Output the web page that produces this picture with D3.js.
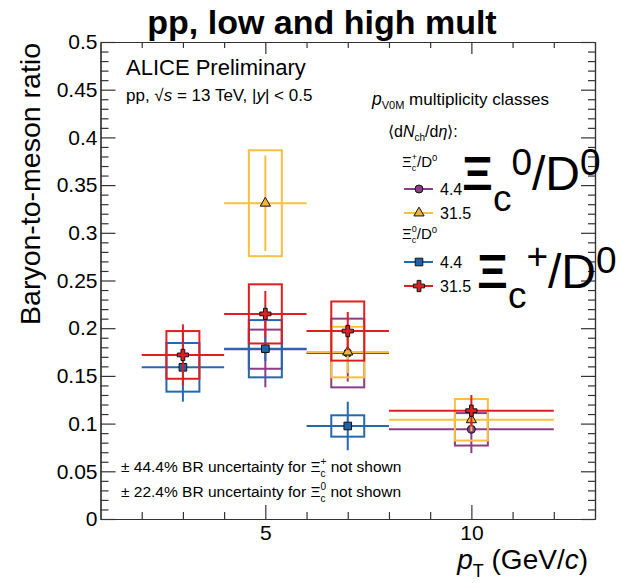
<!DOCTYPE html>
<html><head><meta charset="utf-8">
<script src="https://cdn.jsdelivr.net/npm/d3@7"></script>
<style>
body{margin:0;background:#fff}
text{white-space:pre;font-family:'Liberation Sans',Arial,Helvetica,sans-serif;fill:#000}
</style>
</head><body>
<svg id="c" width="621" height="583"></svg>
<script>
// ---------------- data ----------------
const binCenters = [3, 5, 7, 10];
const binLow     = [2, 4, 6, 8];
const binHigh    = [4, 6, 8, 12];

// Xi_c^+/D0, <dNch/deta> = 4.4
const xicPlusLowVal  = [null, 0.178, 0.174, 0.094];
const xicPlusLowStat = [null, 0.040, 0.030, 0.025];
const xicPlusLowSyst = [null, 0.0205, 0.036, 0.017];
// Xi_c^+/D0, <dNch/deta> = 31.5
const xicPlusHighVal  = [null, 0.331, 0.175, 0.104];
const xicPlusHighStat = [null, 0.050, 0.022, 0.012];
const xicPlusHighSyst = [null, 0.0555, 0.0265, 0.0218];
// Xi_c^0/D0, <dNch/deta> = 4.4
const xicZeroLowVal  = [0.159, 0.1785, 0.0975, null];
const xicZeroLowStat = [0.036, 0.013, 0.0255, null];
const xicZeroLowSyst = [0.0255, 0.030, 0.0112, null];
// Xi_c^0/D0, <dNch/deta> = 31.5
const xicZeroHighVal  = [0.172, 0.215, 0.197, 0.1135];
const xicZeroHighStat = [0.032, 0.024, 0.020, 0.0165];
const xicZeroHighSyst = [0.025, 0.031, 0.031, null];

const legendLabels = ["4.4", "31.5", "4.4", "31.5"];
const xMajorTicks = [5, 10];
const xTickLabels = ["5", "10"];
const xMinorTicks = [2, 3, 4, 6, 7, 8, 9, 11, 12];
const yMajorTicks = [0, 0.05, 0.1, 0.15, 0.2, 0.25, 0.3, 0.35, 0.4, 0.45, 0.5];
const yTickLabels = ["0", "0.05", "0.1", "0.15", "0.2", "0.25", "0.3", "0.35", "0.4", "0.45", "0.5"];
const yMinorTicks = d3.range(1, 50).filter(i => i % 5 !== 0).map(i => i / 100);

// ---------------- styles ----------------
const C_PURPLE = "#8b3d8a", C_YELLOW = "#f6c040", C_BLUE = "#2468b0", C_RED = "#e01e22";
const series = [
  {val: xicPlusLowVal,  stat: xicPlusLowStat,  syst: xicPlusLowSyst,  color: C_PURPLE, fill: "#8b3d8a", sym: d3.symbolCircle,   size: 50},
  {val: xicPlusHighVal, stat: xicPlusHighStat, syst: xicPlusHighSyst, color: C_YELLOW, fill: "#f3b43a", sym: d3.symbolTriangle, size: 45},
  {val: xicZeroLowVal,  stat: xicZeroLowStat,  syst: xicZeroLowSyst,  color: C_BLUE,   fill: "#1f62a8", sym: d3.symbolSquare,   size: 58},
  {val: xicZeroHighVal, stat: xicZeroHighStat, syst: xicZeroHighSyst, color: C_RED,    fill: "#e01e22", sym: d3.symbolCross,    size: 70},
];
const BOX_HALF = 0.4;
const AX = "#333";

const svg = d3.select("#c");
const x = d3.scaleLinear().domain([1, 13]).range([100.5, 595]);
const y = d3.scaleLinear().domain([0, 0.5]).range([519, 42]);

// ---------------- rich text helper ----------------
function rich(parent, px, py, parts, base, opt = {}) {
  const g = parent.append("g");
  let cx = 0;
  const mk = (p, xx) => {
    const t = g.append("text").attr("x", xx).attr("y", p.dy || 0)
      .style("font-size", (p.size || base) + "px")
      .style("font-style", p.it ? "italic" : "normal")
      .style("font-weight", p.bold ? "bold" : "normal")
      .text(p.t);
    return t.node().getComputedTextLength();
  };
  parts.forEach(p => {
    if (p.stack) { let w = 0; p.stack.forEach(s => { w = Math.max(w, mk(s, cx)); }); cx += w; }
    else cx += mk(p, cx);
  });
  let sx = px;
  if (opt.anchor === "end") sx = px - cx; else if (opt.anchor === "middle") sx = px - cx / 2;
  g.attr("transform", `translate(${sx},${py})`);
  return g;
}

// ---------------- axes ----------------
function styleAxis(g) {
  g.selectAll("path.domain").attr("stroke", AX).attr("stroke-width", 1.2);
  g.selectAll(".tick line").attr("stroke", AX).attr("stroke-width", 1.2);
  g.selectAll(".tick text").style("font-size", "21px").attr("fill", "#000");
}
const gx = svg.append("g").attr("transform", "translate(0,519)");
gx.call(d3.axisBottom(x).tickValues(xMajorTicks).tickSize(-14).tickSizeOuter(0).tickPadding(6).tickFormat((d, i) => xTickLabels[i])).call(styleAxis);
gx.append("g").call(d3.axisBottom(x).tickValues(xMinorTicks).tickSize(-7).tickSizeOuter(0).tickFormat("")).call(styleAxis);

const gt = svg.append("g").attr("transform", "translate(0,42)");
gt.call(d3.axisTop(x).tickValues(xMajorTicks).tickSize(-12).tickSizeOuter(0).tickFormat("")).call(styleAxis);
gt.append("g").call(d3.axisTop(x).tickValues(xMinorTicks).tickSize(-6).tickSizeOuter(0).tickFormat("")).call(styleAxis);

const gy = svg.append("g").attr("transform", "translate(100.5,0)");
gy.call(d3.axisLeft(y).tickValues(yMajorTicks).tickSize(-15).tickSizeOuter(0).tickPadding(3).tickFormat((d, i) => yTickLabels[i])).call(styleAxis);
gy.append("g").call(d3.axisLeft(y).tickValues(yMinorTicks).tickSize(-8).tickSizeOuter(0).tickFormat("")).call(styleAxis);

const gr = svg.append("g").attr("transform", "translate(595,0)");
gr.call(d3.axisRight(y).tickValues(yMajorTicks).tickSize(-14).tickSizeOuter(0).tickFormat("")).call(styleAxis);
gr.append("g").call(d3.axisRight(y).tickValues(yMinorTicks).tickSize(-7).tickSizeOuter(0).tickFormat("")).call(styleAxis);

// ---------------- data marks ----------------
const plot = svg.append("g");
series.forEach(s => {
  const g = plot.append("g");
  binCenters.forEach((c, i) => {
    const v = s.val[i];
    if (v === null) return;
    if (s.syst[i] !== null) {
      g.append("rect")
        .attr("x", x(c - BOX_HALF)).attr("width", x(c + BOX_HALF) - x(c - BOX_HALF))
        .attr("y", y(v + s.syst[i])).attr("height", y(v - s.syst[i]) - y(v + s.syst[i]))
        .attr("fill", "none").attr("stroke", s.color).attr("stroke-width", 2);
    }
    g.append("line").attr("x1", x(binLow[i])).attr("x2", x(binHigh[i]))
      .attr("y1", y(v)).attr("y2", y(v)).attr("stroke", s.color).attr("stroke-width", 2);
    g.append("line").attr("x1", x(c)).attr("x2", x(c))
      .attr("y1", y(v - s.stat[i])).attr("y2", y(v + s.stat[i])).attr("stroke", s.color).attr("stroke-width", 2);
    g.append("path").attr("d", d3.symbol(s.sym, s.size)())
      .attr("transform", `translate(${x(c)},${y(v)})`)
      .attr("fill", s.fill).attr("stroke", "#111").attr("stroke-width", 1);
  });
});

// ---------------- texts ----------------
rich(svg, 322, 34, [{t: "pp, low and high mult", bold: true}], 34, {anchor: "middle"});
rich(svg, 126, 75, [{t: "ALICE Preliminary"}], 22);
rich(svg, 126, 101, [{t: "pp, √"}, {t: "s", it: true}, {t: " = 13 TeV, |"}, {t: "y", it: true}, {t: "| < 0.5"}], 17);

// y label
svg.append("text").attr("transform", "translate(40,43) rotate(-90)")
  .attr("text-anchor", "end").style("font-size", "28.5px").text("Baryon-to-meson ratio");
// x label
rich(svg, 588, 569, [{t: "p", it: true}, {t: "T", size: 18, dy: 8}, {t: " (GeV/"}, {t: "c", it: true}, {t: ")"}], 28, {anchor: "end"});

// legend
rich(svg, 372, 105, [{t: "p", it: true, size: 17.5}, {t: "V0M", size: 11, dy: 4}, {t: " multiplicity classes"}], 17);
rich(svg, 388, 137, [{t: "⟨d"}, {t: "N", it: true}, {t: "ch", size: 10, dy: 4}, {t: "/d"}, {t: "η", it: true}, {t: "⟩:"}], 16);
const xiLegend = (py, sup) => rich(svg, 402, py, [{t: "Ξ"}, {stack: [{t: sup, size: 9, dy: -7}, {t: "c", size: 9, dy: 4}]}, {t: "/D"}, {t: "0", size: 9.5, dy: -6}], 15);
xiLegend(167, "+");
xiLegend(239, "0");
const legY = [189, 213, 262, 286];
series.forEach((s, i) => {
  svg.append("line").attr("x1", 404).attr("x2", 433).attr("y1", legY[i]).attr("y2", legY[i])
    .attr("stroke", s.color).attr("stroke-width", 2);
  svg.append("path").attr("d", d3.symbol(s.sym, s.size)())
    .attr("transform", `translate(419,${legY[i]})`)
    .attr("fill", s.fill).attr("stroke", "#111").attr("stroke-width", 1);
  rich(svg, 440, legY[i] + 6, [{t: legendLabels[i]}], 16);
});

// big labels
rich(svg, 462, 190, [{t: "Ξ", bold: true}, {t: "c", size: 37, dy: 21}, {t: "0", size: 37, dy: -15}, {t: "/D"}, {t: "0", size: 37, dy: -15}], 48);
rich(svg, 477, 288, [{t: "Ξ", bold: true}, {t: "c", size: 37, dy: 20}, {t: "+", size: 37, dy: -19}, {t: "/D"}, {t: "0", size: 37, dy: -15}], 48);

// notes
rich(svg, 121, 472, [{t: "± 44.4% BR uncertainty for "}, {t: "Ξ"}, {stack: [{t: "+", size: 10, dy: -7}, {t: "c", size: 10, dy: 5}]}, {t: " not shown"}], 15.5);
rich(svg, 121, 497, [{t: "± 22.4% BR uncertainty for "}, {t: "Ξ"}, {stack: [{t: "0", size: 10, dy: -7}, {t: "c", size: 10, dy: 5}]}, {t: " not shown"}], 15.5);
</script>
</body></html>
